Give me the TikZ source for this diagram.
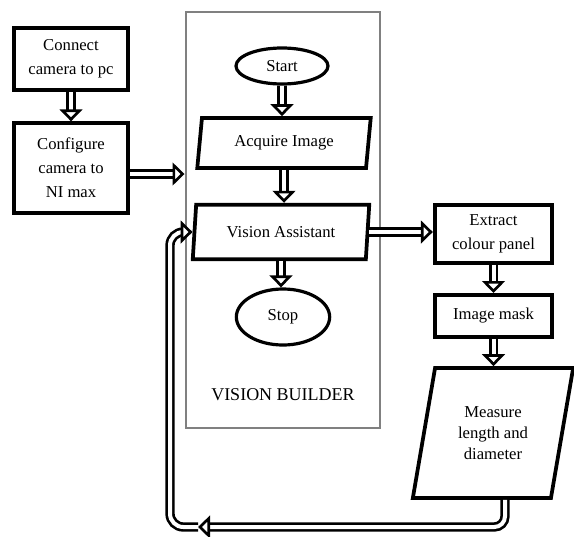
\documentclass[tikz,border=0pt]{standalone}
\usepackage{fontspec}
\setmainfont{Liberation Serif}
\usetikzlibrary{arrows.meta,shapes.geometric}

\tikzset{every picture/.style={line width=0.75pt}}
\tikzset{
  blockbox/.style={draw, line width=3pt, align=center, inner sep=1pt, font=\fontsize{12.5}{18}\selectfont},
  roundbox/.style={draw, ellipse, line width=2.4pt, inner sep=0pt, font=\fontsize{12.5}{14}\selectfont},
  iobox/.style={draw, trapezium, trapezium left angle=79, trapezium right angle=101, trapezium stretches=true, line width=2.8pt, align=center, inner sep=0pt, font=\fontsize{12.5}{18}\selectfont},
  framebox/.style={draw={rgb,255:red,128;green,128;blue,128}, line width=2.2pt, inner sep=0pt},
  dblarrow/.style={double, double distance=3pt, line width=2pt, -{Triangle[width=17pt,length=9pt,fill=white,line width=2pt]}}
}

\begin{document}
\begin{tikzpicture}[x=0.75pt,y=0.75pt,yscale=-1,xscale=1]
        \useasboundingbox (0,0) rectangle (574,536);

        %Shape: Rectangle [id:vb]
        \node [framebox, minimum width=145.5pt, minimum height=312pt] (vb) at (283,220) {};
        % Text Node
        \node [font=\fontsize{13.5}{16}\selectfont] (vbtitle) at (283,395) {VISION BUILDER};

        %Shape: Rectangle [id:connect]
        \node [blockbox, minimum width=85.5pt, minimum height=46.5pt] (connect) at (71,59) {Connect\\camera to pc};
        %Shape: Rectangle [id:conf]
        \node [blockbox, minimum width=85.5pt, minimum height=67pt] (conf) at (71,168) {Configure\\camera to\\NI max};

        %Shape: Ellipse [id:start]
        \node [roundbox, minimum width=69pt, minimum height=27pt] (start) at (282,66) {Start};
        %Shape: Parallelogram [id:acq]
        \node [iobox, minimum width=131pt, minimum height=37.5pt] (acq) at (284,143) {Acquire Image};
        %Shape: Parallelogram [id:va]
        \node [iobox, minimum width=133.5pt, minimum height=41pt] (va) at (281,232) {Vision Assistant};
        %Shape: Ellipse [id:stop]
        \node [roundbox, minimum width=70pt, minimum height=42pt] (stop) at (283,317) {Stop};

        %Shape: Rectangle [id:ext]
        \node [blockbox, minimum width=88pt, minimum height=43.5pt] (ext) at (493.5,234) {Extract\\colour panel};
        %Shape: Rectangle [id:mask]
        \node [blockbox, minimum width=88pt, minimum height=31.5pt] (mask) at (493.5,316) {Image mask};
        %Shape: Parallelogram [id:meas]
        \node [iobox, trapezium left angle=76, trapezium right angle=104, minimum width=121pt, minimum height=97.5pt, font=\fontsize{12.5}{16}\selectfont] (meas) at (493,433) {Measure\\length and\\diameter};

        \coordinate (fbend) at (198,527);
        \coordinate (fbleft) at (170,527);

        %Straight Lines
        \draw [dblarrow] (connect.south) -- (conf.north);
        \draw [dblarrow] ([yshift=4.5pt]conf.east) -- ([yshift=4.5pt]conf.east -| vb.west);
        \draw [dblarrow] (start.south) -- (start.south |- acq.north);
        \draw [dblarrow] (acq.south) -- (acq.south |- va.north);
        \draw [dblarrow] (va.south) -- (va.south |- stop.north);
        \draw [dblarrow] (va.east) -- (va.east -| ext.west);
        \draw [dblarrow] (ext.south) -- (mask.north);
        \draw [dblarrow] (mask.south) -- (mask.south |- meas.north);
        %Feedback line
        \draw [dblarrow, rounded corners=8pt] ([xshift=9pt]meas.south) |- (fbend);
        \draw [dblarrow, rounded corners=10pt] (fbend) -- (fbleft) |- (va.west);

\end{tikzpicture}
\end{document}
